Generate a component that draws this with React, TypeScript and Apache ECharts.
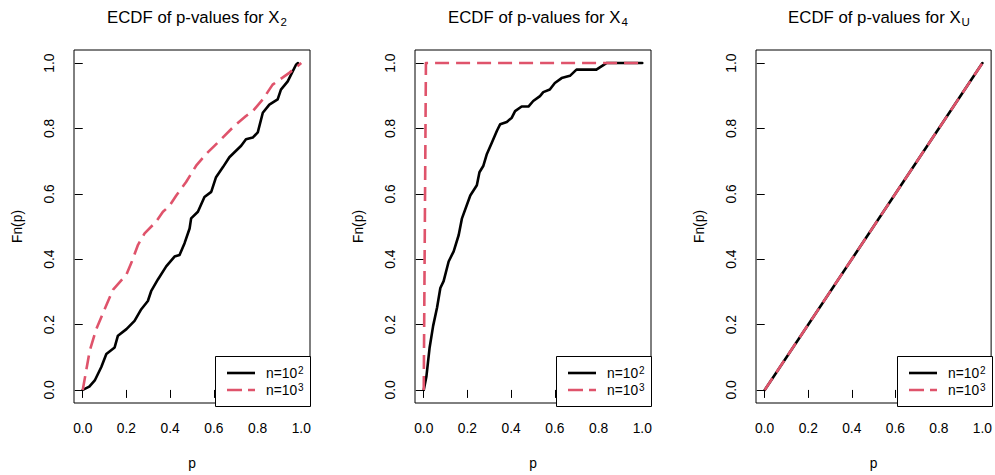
import React, { useEffect, useRef } from 'react';
import * as echarts from 'echarts';

// ---- data ----
const TICKS = [0, 0.2, 0.4, 0.6, 0.8, 1.0];
const TICK_LABELS = ['0.0', '0.2', '0.4', '0.6', '0.8', '1.0'];
const SUBSCRIPTS = ['2', '4', 'U'];
const SERIES_NAMES = ['n=10^2', 'n=10^3'];
const LEGEND_TEXTS = ['n=10{sup|2}', 'n=10{sup|3}'];

// panel X2
const x2N100: number[][] = [
  [0, 0], [0.03, 0.01], [0.055, 0.029], [0.085, 0.07], [0.108, 0.11], [0.146, 0.13], [0.161, 0.166], [0.2, 0.186],
  [0.237, 0.211], [0.268, 0.247], [0.298, 0.272], [0.313, 0.302], [0.344, 0.338], [0.382, 0.378],
  [0.42, 0.408], [0.443, 0.413], [0.466, 0.449], [0.489, 0.494], [0.496, 0.525], [0.527, 0.545],
  [0.557, 0.59], [0.588, 0.606], [0.61, 0.651], [0.641, 0.681], [0.671, 0.712], [0.725, 0.747],
  [0.747, 0.767], [0.778, 0.772], [0.801, 0.788], [0.824, 0.848], [0.854, 0.873], [0.892, 0.889],
  [0.907, 0.919], [0.938, 0.944], [0.976, 0.995], [0.985, 1.0]
];
const x2N1000: number[][] = [
  [0, 0], [0.032, 0.12], [0.062, 0.186], [0.1, 0.247], [0.139, 0.307], [0.2, 0.353], [0.222, 0.388],
  [0.253, 0.444], [0.283, 0.479], [0.336, 0.515], [0.367, 0.545], [0.397, 0.563], [0.428, 0.595],
  [0.473, 0.636], [0.519, 0.686], [0.565, 0.722], [0.626, 0.762], [0.694, 0.808], [0.747, 0.838],
  [0.778, 0.853], [0.824, 0.889], [0.869, 0.934], [0.945, 0.97], [1.0, 1.0]
];
// panel X4
const x4N100: number[][] = [
  [0, 0], [0.012, 0.04], [0.027, 0.13], [0.043, 0.196], [0.061, 0.252], [0.076, 0.312], [0.091, 0.333],
  [0.114, 0.393], [0.137, 0.424], [0.16, 0.474], [0.175, 0.525], [0.213, 0.595], [0.243, 0.626],
  [0.255, 0.666], [0.273, 0.686], [0.289, 0.722], [0.312, 0.757], [0.335, 0.793], [0.35, 0.813],
  [0.38, 0.82], [0.403, 0.833], [0.418, 0.853], [0.448, 0.867], [0.479, 0.867], [0.501, 0.884],
  [0.532, 0.899], [0.547, 0.911], [0.577, 0.919], [0.6, 0.939], [0.631, 0.954], [0.669, 0.961],
  [0.699, 0.98], [0.79, 0.98], [0.836, 1.0], [1.0, 1.0]
];
const x4N1000: number[][] = [[0, 0], [0.01, 1.0], [1.0, 1.0]];
// panel XU
const xuN100: number[][] = [[0, 0], [0.5, 0.5], [1.0, 1.0]];
const xuN1000: number[][] = [[0, 0], [0.5, 0.5], [1.0, 1.0]];

const PANEL_DATA = [
  [x2N100, x2N1000],
  [x4N100, x4N1000],
  [xuN100, xuN1000]
];

// ---- layout / style ----
const FONT = '"Liberation Sans", Arial, Helvetica, sans-serif';
const BLACK = '#000000';
const RED = '#DF536B';
const GRID_LEFTS = [74, 415, 756];
const GRID_WIDTH = 236;
const GRID_TOP = 50;
const GRID_HEIGHT = 356;
const TICK_FS = 13.8;

function tickLabel(v: number): string {
  const i = TICKS.findIndex((t) => Math.abs(t - v) < 1e-9);
  return i >= 0 ? TICK_LABELS[i] : v.toFixed(1);
}

export default function App() {
  const ref = useRef<HTMLDivElement>(null);

  useEffect(() => {
    if (!ref.current) return;
    const chart = echarts.init(ref.current, undefined, { renderer: 'svg' });

    const grids = GRID_LEFTS.map((left) => ({
      left,
      top: GRID_TOP,
      width: GRID_WIDTH,
      height: GRID_HEIGHT,
      show: true,
      borderColor: BLACK,
      borderWidth: 1,
      backgroundColor: 'transparent',
      containLabel: false
    }));

    const xAxes = GRID_LEFTS.map((_, i) => ({
      type: 'value',
      gridIndex: i,
      min: -0.04,
      max: 1.04,
      name: 'p',
      nameLocation: 'middle',
      nameGap: 53,
      nameTextStyle: { fontFamily: FONT, fontSize: TICK_FS, color: BLACK },
      axisLine: { show: false },
      splitLine: { show: false },
      axisTick: { show: true, customValues: TICKS, length: 8, lineStyle: { color: BLACK, width: 1 } },
      axisLabel: {
        customValues: TICKS,
        formatter: (v: number) => tickLabel(v),
        fontFamily: FONT,
        fontSize: TICK_FS,
        color: BLACK,
        margin: 18
      }
    }));

    const yAxes = GRID_LEFTS.map((_, i) => ({
      type: 'value',
      gridIndex: i,
      min: -0.04,
      max: 1.04,
      name: 'Fn(p)',
      nameLocation: 'middle',
      nameGap: 50,
      nameRotate: 90,
      nameTextStyle: { fontFamily: FONT, fontSize: TICK_FS, color: BLACK },
      axisLine: { show: false },
      splitLine: { show: false },
      axisTick: { show: true, customValues: TICKS, length: 8, lineStyle: { color: BLACK, width: 1 } },
      axisLabel: {
        customValues: TICKS,
        formatter: (v: number) => tickLabel(v),
        rotate: 90,
        fontFamily: FONT,
        fontSize: TICK_FS,
        color: BLACK,
        margin: 18
      }
    }));

    const series: any[] = [];
    PANEL_DATA.forEach((pair, i) => {
      series.push({
        type: 'line',
        name: SERIES_NAMES[0],
        xAxisIndex: i,
        yAxisIndex: i,
        data: pair[0],
        showSymbol: false,
        clip: false,
        z: 2,
        lineStyle: { color: BLACK, width: 2.6, cap: 'round', join: 'round' },
        itemStyle: { color: BLACK }
      });
      series.push({
        type: 'line',
        name: SERIES_NAMES[1],
        xAxisIndex: i,
        yAxisIndex: i,
        data: pair[1],
        showSymbol: false,
        clip: false,
        z: 3,
        lineStyle: { color: RED, width: 2.6, type: [14, 7], cap: 'butt', join: 'round' },
        itemStyle: { color: RED }
      });
    });

    const titles = GRID_LEFTS.map((left, i) => ({
      text: 'ECDF of p-values for X{sub|' + SUBSCRIPTS[i] + '}',
      left: left + GRID_WIDTH / 2,
      textAlign: 'center',
      top: 1,
      textStyle: {
        fontFamily: FONT,
        fontSize: 16.8,
        fontWeight: 'normal',
        color: BLACK,
        lineHeight: 22,
        rich: {
          sub: { fontFamily: FONT, fontSize: 11.5, color: BLACK, verticalAlign: 'bottom', lineHeight: 12, padding: [9, 0, 0, 1] }
        }
      }
    }));

    const legendW = 95;
    const legendH = 50;
    const legendTop = GRID_TOP + GRID_HEIGHT - legendH;
    const graphic: any[] = [];
    GRID_LEFTS.forEach((left) => {
      const bx = left + GRID_WIDTH - legendW;
      graphic.push({
        type: 'rect',
        shape: { x: bx + 0.5, y: legendTop + 0.5, width: legendW, height: legendH },
        style: { fill: '#ffffff', stroke: BLACK, lineWidth: 1 },
        z: 10
      });
      const rows = [legendTop + 17, legendTop + 34];
      graphic.push({
        type: 'line',
        shape: { x1: bx + 12, y1: rows[0], x2: bx + 40, y2: rows[0] },
        style: { stroke: BLACK, lineWidth: 2.6 },
        z: 11
      });
      graphic.push({
        type: 'line',
        shape: { x1: bx + 12, y1: rows[1], x2: bx + 40, y2: rows[1] },
        style: { stroke: RED, lineWidth: 2.6, lineDash: [15, 6] },
        z: 11
      });
      LEGEND_TEXTS.forEach((t, k) => {
        graphic.push({
          type: 'text',
          x: bx + 51,
          y: rows[k],
          z: 11,
          style: {
            text: t,
            fontFamily: FONT,
            fontSize: TICK_FS,
            fill: BLACK,
            verticalAlign: 'middle',
            lineHeight: 16,
            rich: {
              sup: { fontFamily: FONT, fontSize: 10, fill: BLACK, verticalAlign: 'top', lineHeight: 10, padding: [0, 0, 6, 1] }
            }
          }
        });
      });
    });

    chart.setOption({
      animation: false,
      backgroundColor: '#ffffff',
      title: titles,
      grid: grids,
      xAxis: xAxes,
      yAxis: yAxes,
      series,
      graphic
    });

    return () => chart.dispose();
  }, []);

  return (
    <div
      ref={ref}
      style={{ position: 'fixed', left: 0, top: 0, width: 995, height: 475, background: '#fff' }}
    />
  );
}
